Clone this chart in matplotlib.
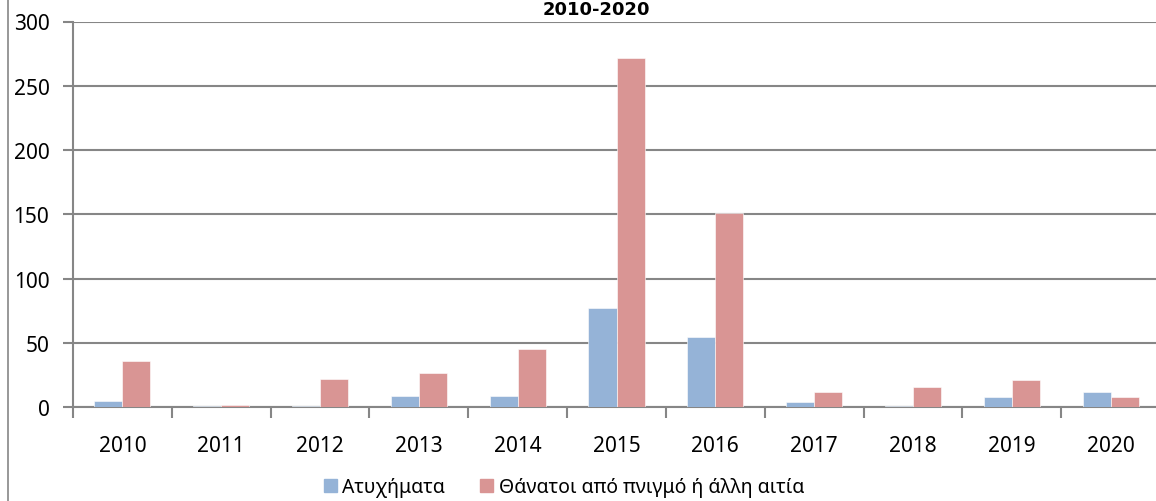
import matplotlib.pyplot as plt
import numpy as np
from matplotlib.lines import Line2D

years = ['2010', '2011', '2012', '2013', '2014', '2015', '2016', '2017', '2018', '2019', '2020']
accidents = [5, 1, 1, 9, 9, 77, 55, 4, 1, 8, 12]
deaths = [36, 2, 22, 27, 45, 272, 151, 12, 16, 21, 8]
series_names = ['Ατυχήματα', 'Θάνατοι από πνιγμό ή άλλη αιτία']

plt.rcParams['font.family'] = ['Noto Sans', 'DejaVu Sans']

W, H = 1156, 502
fig = plt.figure(figsize=(W / 100, H / 100), dpi=100)
left, right = 73 / W, 1160 / W
top, bottom = 1 - 22.5 / H, 1 - 408.3 / H
ax = fig.add_axes([left, bottom, right - left, top - bottom])

x = np.arange(len(years))
bw = 0.284
blue = '#95B3D7'
red = '#D99594'
ax.bar(x - bw / 2, accidents, bw, color=blue, edgecolor='white', linewidth=0.4, zorder=3)
ax.bar(x + bw / 2, deaths, bw, color=red, edgecolor='white', linewidth=0.4, zorder=3)

ax.set_xlim(-0.5, len(years) - 0.5)
ax.set_ylim(0, 300)
ax.set_yticks(range(0, 301, 50))
ax.yaxis.grid(True, color='#868686', linewidth=1.5, zorder=1)

gray = '#868686'
for s in ['top', 'right']:
    ax.spines[s].set_visible(False)
for s in ['left', 'bottom']:
    ax.spines[s].set_color(gray)
    ax.spines[s].set_linewidth(1.5)

ax.set_xticks(np.arange(-0.5, len(years), 1.0))
ax.set_xticklabels([])
ax.set_xticks(x, minor=True)
ax.set_xticklabels(years, minor=True)
ax.tick_params(axis='x', which='major', length=8, width=1.5, color=gray, direction='out')
ax.tick_params(axis='x', which='minor', length=0, pad=20, labelsize=15)
ax.tick_params(axis='y', length=7, width=1.5, color=gray, labelsize=15, pad=10)

fig.text(596 / W, 1 - 15 / H, '2010-2020', ha='center', va='baseline',
         fontsize=13, fontweight='bold', family=['DejaVu Sans'])

# outer chart border on the left
fig.add_artist(Line2D([8 / W, 8 / W], [0, 1], color=gray, linewidth=1.2))

handles = [plt.Rectangle((0, 0), 1, 1, color=blue), plt.Rectangle((0, 0), 1, 1, color=red)]
fig.legend(handles, series_names, loc='center', bbox_to_anchor=(564 / W, 1 - 488 / H),
           ncol=2, frameon=False, fontsize=14, handlelength=0.65, handleheight=0.65,
           handletextpad=0.3, columnspacing=1.8)

fig.savefig('out.png', dpi=100)
